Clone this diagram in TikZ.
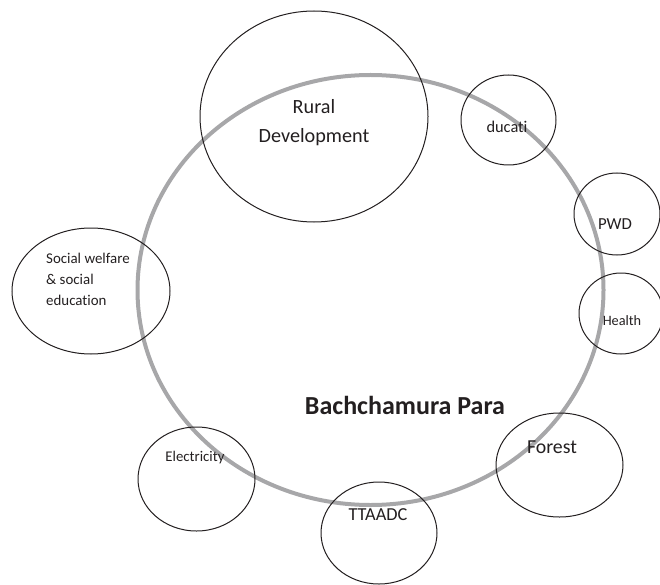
\documentclass[tikz,border=0pt]{standalone}
\usepackage{fontspec}
\setmainfont[Ligatures={NoCommon}]{Carlito}
\usetikzlibrary{shapes.geometric}
\definecolor{ringgray}{HTML}{A7A7A9}
\definecolor{ink}{HTML}{231F20}
\begin{document}
\begin{tikzpicture}[x=1pt,y=-1pt,
  ring/.style={draw=ringgray,line width=4pt,ellipse,inner sep=0pt},
  unit/.style={draw=ink,line width=1pt,ellipse,inner sep=0pt},
  lbl/.style={text=ink,anchor=base,inner sep=0pt}]
\useasboundingbox (0,0) rectangle (660,585);

% central village ring
\node[ring,minimum width=466pt,minimum height=430pt] (para) at (370.5,290) {};

% departments around the village
\node[unit,minimum width=228pt,minimum height=211pt] (rural) at (314,116.5) {};
\node[unit,minimum width=95pt,minimum height=90pt] (edu) at (508.5,120) {};
\node[unit,minimum width=86pt,minimum height=82pt] (pwd) at (617,214) {};
\node[unit,minimum width=84pt,minimum height=81pt] (health) at (621,313.5) {};
\node[unit,minimum width=158pt,minimum height=126pt] (social) at (91,291) {};
\node[unit,minimum width=117pt,minimum height=104pt] (elec) at (196.5,479) {};
\node[unit,minimum width=116pt,minimum height=102pt] (ttaadc) at (379,533) {};
\node[unit,minimum width=127pt,minimum height=104pt] (forest) at (559.5,465) {};

% labels
\node[lbl,font=\fontsize{26}{30}\selectfont\bfseries] (paraT) at (405,414) {Bachchamura Para};
\node[lbl,font=\fontsize{20.2}{24}\selectfont] (ruralA) at (314,114) {Rural};
\node[lbl,font=\fontsize{20.2}{24}\selectfont] (ruralB) at (314,142.5) {Development};
\node[lbl,font=\fontsize{16.4}{20}\selectfont] (eduT) at (507,132.5) {ducati};
\node[lbl,font=\fontsize{16.8}{20}\selectfont] (pwdT) at (615,229) {PWD};
\node[lbl,font=\fontsize{14.3}{18}\selectfont] (healthT) at (622,325) {Health};
\node[lbl,anchor=base west,font=\fontsize{14.9}{18}\selectfont] (socA) at (46,263) {Social welfare};
\node[lbl,anchor=base west,font=\fontsize{14.9}{18}\selectfont] (socB) at (46,284.2) {\& social};
\node[lbl,anchor=base west,font=\fontsize{14.9}{18}\selectfont] (socC) at (46,305) {education};
\node[lbl,font=\fontsize{14.8}{18}\selectfont] (elecT) at (195,461.5) {Electricity};
\node[lbl,font=\fontsize{18.3}{22}\selectfont] (ttaadcT) at (378,520) {TTAADC};
\node[lbl,font=\fontsize{19.8}{24}\selectfont] (forestT) at (552,453) {Forest};
\end{tikzpicture}
\end{document}
